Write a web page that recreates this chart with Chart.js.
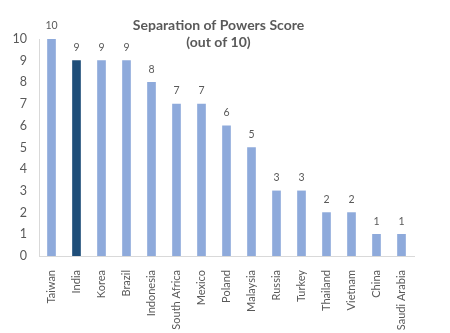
<!DOCTYPE html>
<html lang="en">
<head>
    <meta charset="UTF-8">
    <title>Separation of Powers Score</title>
    <script src="https://cdn.jsdelivr.net/npm/chart.js"></script>
    <style>
        html, body { margin: 0; padding: 0; background: white; }
        #wrap { width: 450px; height: 333px; }
    </style>
</head>
<body>
<div id="wrap"><canvas id="score-chart"></canvas></div>
<script>
    const countries = ['Taiwan', 'India', 'Korea', 'Brazil', 'Indonesia', 'South Africa', 'Mexico',
        'Poland', 'Malaysia', 'Russia', 'Turkey', 'Thailand', 'Vietnam', 'China', 'Saudi Arabia'];
    const scores = [10, 9, 9, 9, 8, 7, 7, 6, 5, 3, 3, 2, 2, 1, 1];
    const highlight = 'India';
    const yTicks = [0, 1, 2, 3, 4, 5, 6, 7, 8, 9, 10];
    const titleLines = ['Separation of Powers Score', '(out of 10)'];

    const barColors = countries.map(c => c === highlight ? '#1f4e79' : '#8eaadb');
    const textGray = '#595959';
    const font = "Lato, 'Open Sans', sans-serif";

    // numbers above each bar + the two-line title
    const overlay = {
        id: 'overlay',
        afterDatasetsDraw(chart) {
            const ctx = chart.ctx;
            const meta = chart.getDatasetMeta(0);
            ctx.save();
            ctx.fillStyle = textGray;
            ctx.font = '10.5px ' + font;
            ctx.textAlign = 'center';
            ctx.textBaseline = 'middle';
            meta.data.forEach((bar, i) => {
                ctx.fillText(String(scores[i]), bar.x, bar.y - 13);
            });

            const area = chart.chartArea;
            const cx = (area.left + area.right) / 2 - 8;
            ctx.font = 'bold 14px ' + font;
            ctx.fillText(titleLines[0], cx, 25);
            ctx.fillText(titleLines[1], cx, 42);
            ctx.restore();
        }
    };

    new Chart(document.getElementById('score-chart'), {
        type: 'bar',
        data: {
            labels: countries,
            datasets: [{
                data: scores,
                backgroundColor: barColors,
                barThickness: 8
            }]
        },
        options: {
            responsive: true,
            maintainAspectRatio: false,
            animation: false,
            layout: { padding: { top: 39, right: 36, left: 0, bottom: 0 } },
            plugins: {
                legend: { display: false },
                tooltip: { enabled: false }
            },
            scales: {
                x: {
                    grid: { display: false },
                    border: { color: '#d9d9d9', width: 1 },
                    ticks: {
                        color: textGray,
                        font: { family: font, size: 11 },
                        minRotation: 90,
                        maxRotation: 90,
                        padding: 6,
                        autoSkip: false
                    },
                    afterFit(scale) { scale.height = 77; }
                },
                y: {
                    min: 0,
                    max: 10,
                    grid: { display: false, drawTicks: false },
                    border: { color: '#d9d9d9', width: 1 },
                    afterBuildTicks(scale) { scale.ticks = yTicks.map(v => ({ value: v })); },
                    ticks: {
                        color: textGray,
                        font: { family: font, size: 12.5 },
                        padding: 12
                    },
                    afterFit(scale) { scale.width = 39; }
                }
            }
        },
        plugins: [overlay]
    });
</script>
</body>
</html>
